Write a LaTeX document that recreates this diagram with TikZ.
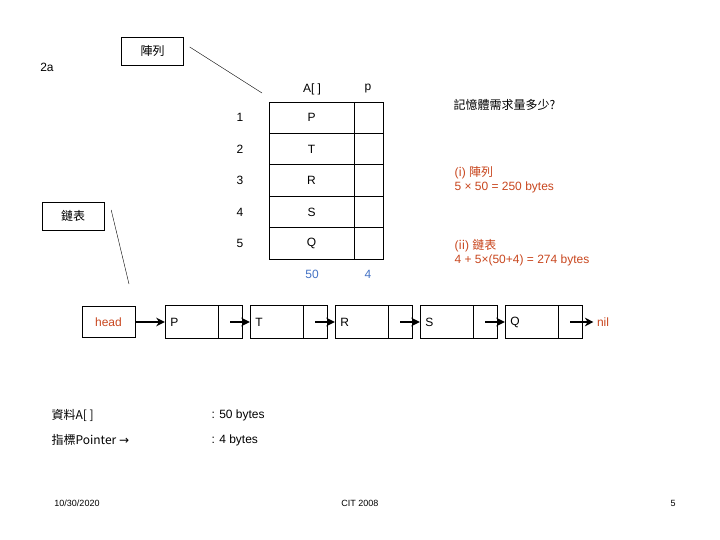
\documentclass[tikz,border=0pt]{standalone}
\usepackage{fontspec}
\setmainfont{Liberation Sans}
\newfontfamily\cjk{Noto Sans CJK TC}
\usetikzlibrary{arrows.meta, positioning}
\definecolor{ansred}{HTML}{C8461E}
\definecolor{sizeblue}{HTML}{4472C4}

\begin{document}
\begin{tikzpicture}[x=1pt, y=-1pt,
    cell/.style={draw, thick, minimum width=#1, minimum height=31.4pt, inner sep=0pt, font=\large},
    listnode/.style={draw, minimum width=77pt, minimum height=33pt, inner sep=0pt},
    callout/.style={draw, minimum width=62pt, minimum height=28pt, font=\large\cjk},
    link/.style={-{Stealth[length=3mm, width=3mm]}, line width=2.5pt},
    note/.style={font=\large, anchor=west, align=left}
]
\useasboundingbox (0,0) rectangle (720,540);

% Title and callouts
\node[font=\large] (title) at (47,67) {2a};
\node[callout] (arrbox) at (152.5,51) {陣列};
\node[callout] (lstbox) at (73,216) {鏈表};
\coordinate (arrtip) at (262,93);
\coordinate (lsttip) at (129,284);
\draw (arrbox.east) ++(6,-4) coordinate (arrfrom) -- (arrtip);
\draw (lstbox.east) ++(7,-6) coordinate (lstfrom) -- (lsttip);

% Array table
\node[font=\large] (hA) at (312,89) {A[ ]};
\node[font=\large] (hp) at (368,89) {p};
\foreach \i/\v in {1/P, 2/T, 3/R, 4/S, 5/Q} {
  \node[cell=85pt] (a\i) at (311.5,{86.3+31.4*\i}) {\v};
  \node[cell=29pt] (p\i) at (368.5,{86.3+31.4*\i}) {};
  \node[font=\large] (n\i) at (240,{86.3+31.4*\i}) {\i};
}
\node[font=\large, color=sizeblue] (sz50) at (312,274) {50};
\node[font=\large, color=sizeblue] (sz4) at (368,274) {4};

% Right-hand notes
\node[note, font=\large\cjk] (q) at (450,105) {記憶體需求量多少?};
\node[note, color=ansred] (ans1) at (451,180) {({\cjk i}) {\cjk 陣列}\\5 × 50 = 250 bytes};
\node[note, color=ansred] (ans2) at (451,253) {({\cjk ii}) {\cjk 鏈表}\\4 + 5×(50+4) = 274 bytes};

% Linked list
\node[draw, minimum width=53pt, minimum height=31pt, font=\large, text=ansred] (head) at (108.5,322) {head};
\foreach \v [count=\k] in {P, T, R, S, Q} {
  \node[listnode] (l\k) at ({203.5+85*(\k-1)},322) {};
  \node[font=\large, anchor=west] (v\k) at ([xshift=2pt]l\k.west) {\v};
  \draw ([xshift=-24pt]l\k.north east) -- ([xshift=-24pt]l\k.south east);
}
\node[font=\large, color=ansred] (nil) at (603,322) {nil};
\draw[link] (head) -- (l1);
\draw[link] ([xshift=-12pt]l1.east) -- (l2);
\draw[link] ([xshift=-12pt]l2.east) -- (l3);
\draw[link] ([xshift=-12pt]l3.east) -- (l4);
\draw[link] ([xshift=-12pt]l4.east) -- (l5);
\draw[link] ([xshift=-12pt]l5.east) -- (nil);

% Sizes
\node[note, font=\large\cjk] (data) at (48,415) {資料A[ ]};
\node[note, font=\large\cjk] (ptr) at (48,440) {指標Pointer {\fontspec{DejaVu Sans}→}};
\node[note] (dsz) at (208,415) {: 50 bytes};
\node[note] (psz) at (208,440) {: 4 bytes};

% Footer
\node[font=\small] (date) at (77,503) {10/30/2020};
\node[font=\small] (src) at (360,503) {CIT 2008};
\node[font=\small] (page) at (673,503) {5};
\end{tikzpicture}
\end{document}
